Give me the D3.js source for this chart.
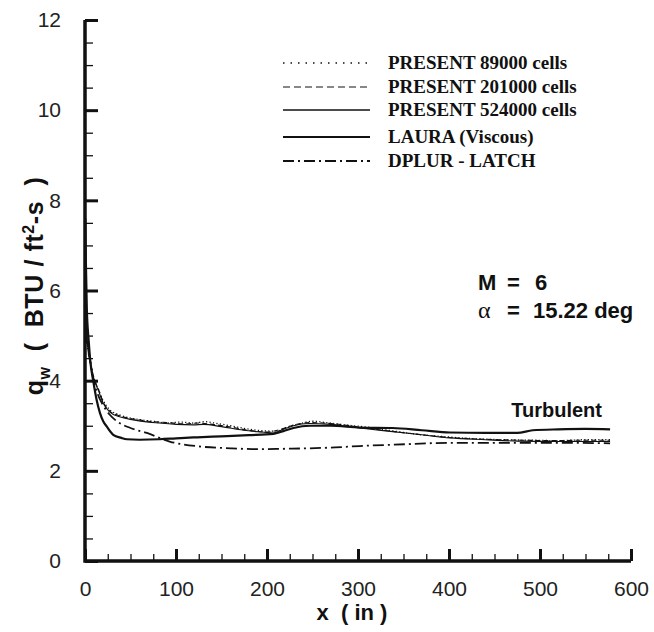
<!DOCTYPE html>
<html>
<head>
<meta charset="utf-8">
<script src="https://cdn.jsdelivr.net/npm/d3@7"></script>
<style>
  body { margin: 0; background: #fff; }
  text { white-space: pre; }
  .tick text { font-family: "Liberation Sans", Arial, sans-serif; font-size: 21px; fill: #222; }
  .legend text { font-family: "Liberation Serif", "Times New Roman", serif; font-weight: bold; font-size: 19px; fill: #111; }
  .note { font-family: "Liberation Sans", Arial, sans-serif; font-weight: bold; fill: #111; }
</style>
</head>
<body>
<svg id="chart" width="654" height="632"></svg>
<script>
// x (in) and q_w (BTU/ft^2-s)
var xLaura = [0.3, 1, 2, 4, 6, 9, 12.8, 16.5, 20, 24, 31, 40, 46, 60, 82, 100, 119, 140, 156, 180, 207, 218, 229, 247, 270, 302, 338, 370, 401, 440, 475, 492, 520, 550, 577];
var qLaura = [7.6, 6.6, 5.6, 4.9, 4.4, 4.0, 3.57, 3.28, 3.1, 2.98, 2.80, 2.73, 2.70, 2.69, 2.70, 2.72, 2.74, 2.76, 2.77, 2.79, 2.82, 2.88, 2.95, 3.0, 3.0, 2.96, 2.95, 2.9, 2.85, 2.84, 2.84, 2.9, 2.92, 2.93, 2.92];

var xFine = [0.3, 1, 2, 3.5, 5.5, 9, 14.6, 20, 27, 38, 53, 70, 82, 100, 119, 130, 150, 174, 195, 207, 218, 229, 247, 270, 302, 338, 370, 401, 440, 475, 520, 550, 577];
var qFine = [6.3, 5.5, 5.0, 4.7, 4.46, 4.09, 3.79, 3.5, 3.31, 3.2, 3.13, 3.08, 3.06, 3.03, 3.02, 3.03, 2.98, 2.9, 2.86, 2.84, 2.92, 3.0, 3.05, 3.03, 2.95, 2.87, 2.8, 2.73, 2.69, 2.66, 2.65, 2.65, 2.65];

var xMedium = [0.3, 1, 2, 3.5, 5.5, 9, 14.6, 20, 27, 38, 53, 70, 90, 110, 125, 140, 160, 180, 200, 215, 230, 250, 275, 305, 340, 370, 400, 440, 480, 520, 550, 577];
var qMedium = [6.1, 5.4, 4.95, 4.65, 4.42, 4.1, 3.82, 3.53, 3.33, 3.22, 3.15, 3.1, 3.07, 3.04, 3.06, 3.03, 2.97, 2.9, 2.86, 2.92, 3.02, 3.07, 3.04, 2.96, 2.87, 2.8, 2.74, 2.7, 2.68, 2.67, 2.68, 2.68];

var xCoarse = [0.3, 1, 2, 3.5, 5.5, 9, 14, 20, 27, 38, 50, 62, 75, 90, 105, 120, 132, 145, 160, 178, 195, 210, 222, 235, 250, 265, 285, 310, 340, 370, 400, 430, 460, 490, 520, 550, 577];
var qCoarse = [6.5, 5.6, 5.05, 4.75, 4.5, 4.12, 3.84, 3.56, 3.36, 3.24, 3.17, 3.13, 3.1, 3.06, 3.08, 3.06, 3.09, 3.05, 3.0, 2.93, 2.89, 2.88, 2.97, 3.04, 3.1, 3.07, 3.02, 2.97, 2.88, 2.8, 2.75, 2.71, 2.69, 2.68, 2.67, 2.69, 2.69];

var xDplur = [0.3, 1, 2, 4, 6, 9, 14, 20, 27, 35, 50, 68, 93, 126, 160, 192, 220, 247, 275, 302, 340, 401, 450, 500, 540, 577];
var qDplur = [6.0, 5.3, 4.9, 4.6, 4.4, 4.05, 3.7, 3.45, 3.25, 3.1, 2.95, 2.84, 2.65, 2.54, 2.5, 2.48, 2.49, 2.5, 2.52, 2.55, 2.58, 2.62, 2.62, 2.62, 2.62, 2.61];

var legendLabels = ["PRESENT 89000 cells", "PRESENT 201000 cells", "PRESENT 524000 cells", "LAURA (Viscous)", "DPLUR - LATCH"];
var xTicks = [0, 100, 200, 300, 400, 500, 600];
var yTicks = [0, 2, 4, 6, 8, 10, 12];

var svg = d3.select("#chart");
var plotLeft = 85, plotRight = 631, plotTop = 20, plotBottom = 561;

var xScale = d3.scaleLinear().domain([0, 600]).range([plotLeft, plotRight]);
var yScale = d3.scaleLinear().domain([0, 12]).range([plotBottom, plotTop]);

// minor ticks first
var xMinor = d3.axisBottom(xScale).tickValues(d3.range(0, 601, 25)).tickSize(-7).tickFormat("");
var yMinor = d3.axisLeft(yScale).tickValues(d3.range(0, 12.01, 0.5)).tickSize(-8).tickFormat("");
svg.append("g").attr("transform", "translate(0," + plotBottom + ")").call(xMinor)
    .call(function (g) { g.select(".domain").remove(); g.selectAll("line").attr("stroke", "#111").attr("stroke-width", 1.3); });
svg.append("g").attr("transform", "translate(" + plotLeft + ",0)").call(yMinor)
    .call(function (g) { g.select(".domain").remove(); g.selectAll("line").attr("stroke", "#111").attr("stroke-width", 1.3); });

var xAxis = d3.axisBottom(xScale).tickValues(xTicks).tickSize(-12).tickPadding(20);
var yAxis = d3.axisLeft(yScale).tickValues(yTicks).tickSize(-13).tickPadding(24);
svg.append("g").attr("transform", "translate(0," + plotBottom + ")").call(xAxis)
    .call(function (g) {
        g.select(".domain").remove();
        g.selectAll("line").attr("stroke", "#111").attr("stroke-width", 3);
        g.selectAll("text").attr("dy", "0.71em");
    });
svg.append("g").attr("transform", "translate(" + plotLeft + ",0)").call(yAxis)
    .call(function (g) {
        g.select(".domain").remove();
        g.selectAll("line").attr("stroke", "#111").attr("stroke-width", 3);
    });

// axis lines
svg.append("path")
    .attr("d", "M" + plotLeft + "," + plotTop + "V" + plotBottom + "H" + plotRight)
    .attr("fill", "none").attr("stroke", "#111").attr("stroke-width", 3.5);

// curves
var series = [
    { x: xCoarse, q: qCoarse, dash: "1.2,2.3", width: 1.3 },
    { x: xMedium, q: qMedium, dash: "5,3", width: 1.1 },
    { x: xFine, q: qFine, dash: null, width: 1.1 },
    { x: xLaura, q: qLaura, dash: null, width: 2.2 },
    { x: xDplur, q: qDplur, dash: "11,4,2,4", width: 1.8 }
];

var line = d3.line()
    .x(function (d) { return xScale(d[0]); })
    .y(function (d) { return yScale(d[1]); })
    .curve(d3.curveMonotoneX);

series.forEach(function (s) {
    var pts = s.x.map(function (v, i) { return [v, s.q[i]]; });
    svg.append("path")
        .datum(pts)
        .attr("d", line)
        .attr("fill", "none")
        .attr("stroke", "#111")
        .attr("stroke-width", s.width)
        .attr("stroke-dasharray", s.dash);
});

// legend
var legendY = [63, 87, 110, 137, 161];
var legend = svg.append("g").attr("class", "legend");
series.forEach(function (s, i) {
    legend.append("line")
        .attr("x1", 283).attr("x2", 370)
        .attr("y1", legendY[i]).attr("y2", legendY[i])
        .attr("stroke", "#111")
        .attr("stroke-width", i === 2 ? 1.3 : s.width)
        .attr("stroke-dasharray", i === 0 ? "1.5,6" : (i === 1 ? "7,4" : s.dash));
    legend.append("text")
        .attr("x", 388).attr("y", legendY[i] + 6)
        .text(legendLabels[i]);
});

// annotations
var mText = svg.append("text").attr("class", "note").attr("y", 290).style("font-size", "22px");
mText.append("tspan").attr("x", 478).text("M");
mText.append("tspan").attr("x", 507).text("=");
mText.append("tspan").attr("x", 535).text("6");
var alpha = svg.append("text").attr("class", "note").attr("y", 318).style("font-size", "22px");
alpha.append("tspan").attr("x", 478).style("font-family", "'Liberation Serif', serif").style("font-weight", "normal").style("font-size", "24px").text("\u03b1");
alpha.append("tspan").attr("x", 507).text("=");
alpha.append("tspan").attr("x", 533).text("15.22 deg");
svg.append("text").attr("class", "note").attr("x", 602).attr("y", 417)
    .attr("text-anchor", "end").style("font-size", "20px").text("Turbulent");

// axis titles
svg.append("text").attr("class", "note").attr("x", 352).attr("y", 620)
    .attr("text-anchor", "middle").style("font-size", "22px").text("x  ( in )");

var yt = svg.append("text").attr("class", "note")
    .attr("transform", "translate(43,286) rotate(-90)")
    .attr("text-anchor", "middle").style("font-size", "25px").style("letter-spacing", "0.6px");
yt.append("tspan").text("q");
yt.append("tspan").attr("dy", 7).style("font-size", "16px").text("w");
yt.append("tspan").attr("dy", -7).text("  (  BTU / ft");
yt.append("tspan").attr("dy", -9).style("font-size", "16px").text("2");
yt.append("tspan").attr("dy", 9).text("-s  )");
</script>
</body>
</html>
